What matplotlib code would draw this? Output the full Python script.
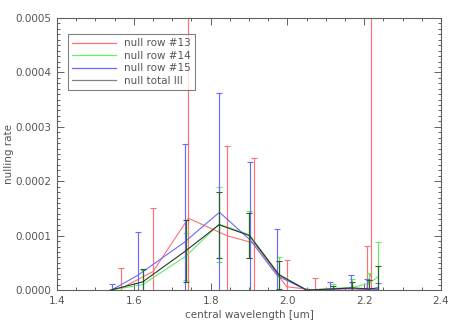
import numpy as np
import matplotlib
matplotlib.use('Agg')
import matplotlib.pyplot as plt
from matplotlib.ticker import MultipleLocator, FormatStrFormatter

# null row #13
red_wl = [1.567, 1.650, 1.742, 1.842, 1.914, 1.998, 2.072, 2.130, 2.175, 2.206, 2.217]
red_val = [3e-6, 3.4e-5, 1.32e-4, 1.0e-4, 8.6e-5, 6e-6, 0.0, 0.0, 0.0, 2e-6, 3.0e-5]
red_err = [3.7e-5, 1.16e-4, 6e-4, 1.65e-4, 1.56e-4, 4.9e-5, 2.3e-5, 0.0, 0.0, 7.9e-5, 6e-4]

# null row #14
green_wl = [1.540, 1.623, 1.735, 1.822, 1.901, 1.978, 2.050, 2.118, 2.169, 2.212, 2.237]
green_val = [0.0, 1.0e-5, 6.2e-5, 1.21e-4, 1.02e-4, 2.9e-5, 0.0, 3e-6, 5e-6, 1.2e-5, 2.5e-5]
green_err = [0.0, 2.6e-5, 4.3e-5, 6.9e-5, 4.3e-5, 3.2e-5, 0.0, 9e-6, 1.5e-5, 2.0e-5, 6.3e-5]

# null row #15
blue_wl = [1.542, 1.610, 1.732, 1.823, 1.903, 1.974, 2.050, 2.111, 2.165, 2.206, 2.237]
blue_val = [0.0, 2.7e-5, 8.8e-5, 1.43e-4, 9.2e-5, 2.6e-5, 0.0, 1.5e-6, 3e-6, 1.5e-6, 1e-6]
blue_err = [1.2e-5, 8.0e-5, 1.8e-4, 2.19e-4, 1.43e-4, 8.6e-5, 0.0, 1.35e-5, 2.45e-5, 1.85e-5, 1.2e-5]

# null total III
tot_wl = green_wl
tot_val = [0.0, 1.5e-5, 7.2e-5, 1.2e-4, 1.0e-4, 2.8e-5, 0.0, 2e-6, 4e-6, 2e-6, 4e-6]
tot_err = [0.0, 2.3e-5, 5.7e-5, 6.1e-5, 4.2e-5, 2.6e-5, 0.0, 6e-6, 1e-5, 1.6e-5, 4.1e-5]

series = [
    (red_wl, red_val, red_err, '#ff7070', '#ff7070', 'null row #13'),
    (green_wl, green_val, green_err, '#5ff05f', '#5ff05f', 'null row #14'),
    (blue_wl, blue_val, blue_err, '#6a6aff', '#6a6aff', 'null row #15'),
    (tot_wl, tot_val, tot_err, '#303030', '#2f5f2f', 'null total III'),
]

fig = plt.figure(figsize=(4.58, 3.27), dpi=100)
ax = fig.add_axes([0.1245, 0.113, 0.8385, 0.832])

axis_col = '#606060'
for i, (wl, val, err, col, ecol, lab) in enumerate(series):
    ax.errorbar(wl, val, yerr=err, color=col, ecolor=ecol, lw=0.8, elinewidth=0.85,
                capsize=2, capthick=0.8, zorder=2 + i)
    ax.plot([], [], color=col if i < 3 else '#808080', lw=0.9, label=lab)

ax.set_xlim(1.4, 2.4)
ax.set_ylim(0, 0.0005)
ax.xaxis.set_major_locator(MultipleLocator(0.2))
ax.xaxis.set_minor_locator(MultipleLocator(0.05))
ax.yaxis.set_major_locator(MultipleLocator(0.0001))
ax.yaxis.set_minor_locator(MultipleLocator(0.00001))
ax.xaxis.set_major_formatter(FormatStrFormatter('%.1f'))
ax.yaxis.set_major_formatter(FormatStrFormatter('%.4f'))

ax.tick_params(which='both', direction='in', top=True, right=True,
               colors=axis_col, labelcolor='#555555', labelsize=7.5, width=0.7)
ax.tick_params(which='major', length=5, pad=4)
ax.tick_params(which='minor', length=2.5)
for sp in ax.spines.values():
    sp.set_color(axis_col)
    sp.set_linewidth(0.8)

ax.set_xlabel('central wavelength [um]', fontsize=7.5, color='#555555', labelpad=3)
ax.set_ylabel('nulling rate', fontsize=7.5, color='#555555', labelpad=1)

leg = ax.legend(loc='upper left', bbox_to_anchor=(0.015, 0.96), fontsize=7.5,
                frameon=True, fancybox=False, handlelength=4.2, handletextpad=0.8,
                labelspacing=0.25, borderpad=0.4, labelcolor='#555555')
leg.get_frame().set_edgecolor(axis_col)
leg.get_frame().set_linewidth(0.8)

fig.savefig('out.png', dpi=100)
